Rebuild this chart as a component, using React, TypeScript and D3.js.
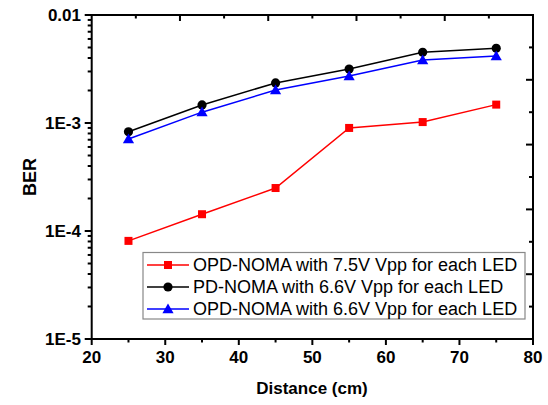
import React from "react";
import * as d3 from "d3";

const distances = [25, 35, 45, 55, 65, 75];
const berOpd75 = [8.1e-5, 1.43e-4, 2.5e-4, 9.0e-4, 1.02e-3, 1.48e-3];
const berPd66 = [8.3e-4, 1.47e-3, 2.35e-3, 3.16e-3, 4.52e-3, 4.92e-3];
const berOpd66 = [7.1e-4, 1.26e-3, 2.02e-3, 2.72e-3, 3.83e-3, 4.17e-3];
const seriesNames = [
  "OPD-NOMA with 7.5V Vpp for each LED",
  "PD-NOMA with 6.6V Vpp for each LED",
  "OPD-NOMA with 6.6V Vpp for each LED",
];
const xTicks = [20, 30, 40, 50, 60, 70, 80];
const xMinor = [25, 35, 45, 55, 65, 75];
const yTicks = [1e-5, 1e-4, 1e-3, 1e-2];
const yTickLabels = ["1E-5", "1E-4", "1E-3", "0.01"];

const W = 548, H = 405;
const L = 91.7, R = 533, T = 15, B = 339;

export default function App() {
  const x = d3.scaleLinear().domain([20, 80]).range([L, R]);
  const y = d3.scaleLog().domain([1e-5, 1e-2]).range([B, T]);
  const line = d3
    .line<[number, number]>()
    .x((d) => x(d[0]))
    .y((d) => y(d[1]));

  const series = [
    { data: berOpd75, color: "#ff0000", marker: "square" },
    { data: berPd66, color: "#000000", marker: "circle" },
    { data: berOpd66, color: "#0000ff", marker: "triangle" },
  ];

  const marker = (kind: string, cx: number, cy: number, color: string, key: any) => {
    if (kind === "square")
      return <rect key={key} x={cx - 4} y={cy - 4} width={8} height={8} fill={color} />;
    if (kind === "circle") return <circle key={key} cx={cx} cy={cy} r={4.6} fill={color} />;
    const s = 5.6;
    return (
      <path
        key={key}
        d={`M${cx},${cy - s}L${cx + s},${cy + s * 0.75}L${cx - s},${cy + s * 0.75}Z`}
        fill={color}
      />
    );
  };

  const yMinor: number[] = [];
  for (let e = -5; e < -2; e++) {
    for (let m = 2; m <= 9; m++) yMinor.push(m * Math.pow(10, e));
  }
  const topTicks = d3.range(11).map((i) => L + ((R - L) * i) / 10);
  const rightTicks = d3.range(11).map((i) => T + ((B - T) * i) / 10);

  const font = "Arial, 'Liberation Sans', Helvetica, sans-serif";

  return (
    <svg width={W} height={H} style={{ position: "absolute", left: 0, top: 0, background: "#fff" }}>
      <rect x={0} y={0} width={W} height={H} fill="#fff" />
      {series.map((s, i) => (
        <path
          key={"l" + i}
          d={line(distances.map((d, j) => [d, s.data[j]] as [number, number])) || ""}
          fill="none"
          stroke={s.color}
          strokeWidth={1.5}
        />
      ))}
      {series.map((s, i) =>
        distances.map((d, j) => marker(s.marker, x(d), y(s.data[j]), s.color, "m" + i + "-" + j))
      )}

      <rect x={L} y={T} width={R - L} height={B - T} fill="none" stroke="#000" strokeWidth={2} />

      {xTicks.map((t) => (
        <line key={"xt" + t} x1={x(t)} x2={x(t)} y1={B} y2={B + 6} stroke="#000" strokeWidth={2} />
      ))}
      {xMinor.map((t) => (
        <line key={"xm" + t} x1={x(t)} x2={x(t)} y1={B} y2={B + 3.5} stroke="#000" strokeWidth={2} />
      ))}
      {xTicks.map((t) => (
        <text
          key={"xl" + t}
          x={x(t)}
          y={363}
          textAnchor="middle"
          fontFamily={font}
          fontWeight="bold"
          fontSize={17}
        >
          {t}
        </text>
      ))}

      {topTicks.map((px, i) =>
        i === 0 || i === 10 ? null : (
          <line
            key={"tt" + i}
            x1={px}
            x2={px}
            y1={T}
            y2={T + (i % 2 === 0 ? 6 : 3.5)}
            stroke="#000"
            strokeWidth={2}
          />
        )
      )}

      {rightTicks.map((py, i) =>
        i === 0 || i === 10 ? null : (
          <line
            key={"rt" + i}
            x1={R}
            x2={R - (i % 2 === 0 ? 7 : 4)}
            y1={py}
            y2={py}
            stroke="#000"
            strokeWidth={2}
          />
        )
      )}

      {yTicks.map((t) => (
        <line key={"yt" + t} x1={L} x2={L - 7} y1={y(t)} y2={y(t)} stroke="#000" strokeWidth={2} />
      ))}
      {yMinor.map((t, i) => (
        <line key={"ym" + i} x1={L} x2={L - 4} y1={y(t)} y2={y(t)} stroke="#000" strokeWidth={2} />
      ))}
      {yTicks.map((t, i) => (
        <text
          key={"yl" + t}
          x={81}
          y={y(t) + 6}
          textAnchor="end"
          fontFamily={font}
          fontWeight="bold"
          fontSize={17}
        >
          {yTickLabels[i]}
        </text>
      ))}

      <text
        x={312}
        y={394}
        textAnchor="middle"
        fontFamily={font}
        fontWeight="bold"
        fontSize={17}
      >
        Distance (cm)
      </text>
      <text
        transform={`translate(36,${(T + B) / 2}) rotate(-90)`}
        textAnchor="middle"
        fontFamily={font}
        fontWeight="bold"
        fontSize={18}
      >
        BER
      </text>

      <rect x={143} y={252.5} width={382} height={66.5} fill="#fff" stroke="#888" strokeWidth={1.2} />
      {series.map((s, i) => {
        const ly = 265 + i * 22;
        return (
          <g key={"lg" + i}>
            <line x1={147} x2={189} y1={ly} y2={ly} stroke={s.color} strokeWidth={1.5} />
            {marker(s.marker, 168, ly, s.color, "lm" + i)}
            <text x={193} y={ly + 6} fontFamily={font} fontSize={18} fill="#000">
              {seriesNames[i]}
            </text>
          </g>
        );
      })}
    </svg>
  );
}
